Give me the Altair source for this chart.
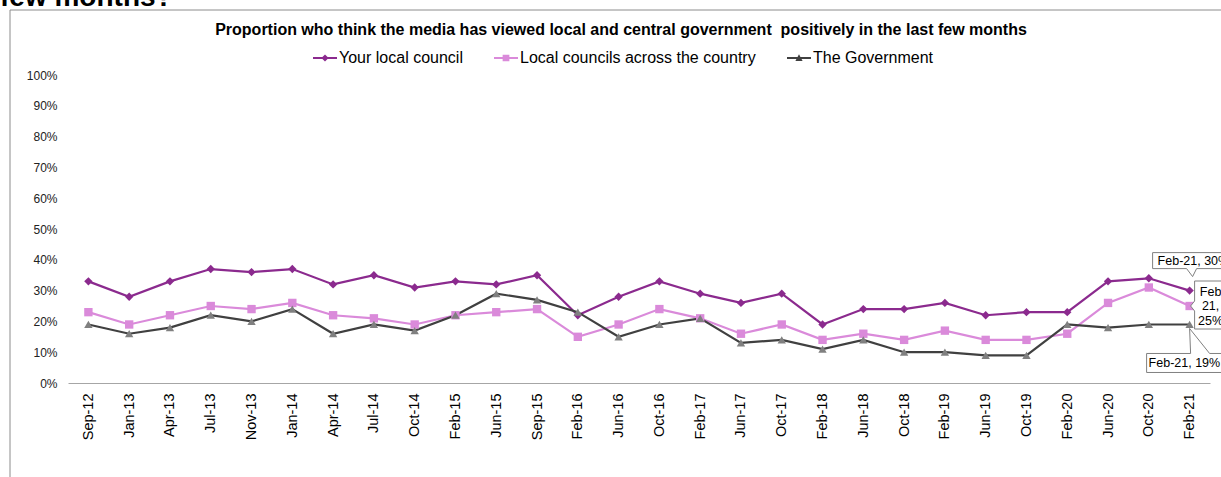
import altair as alt
import pandas as pd

categories = ["Sep-12", "Jan-13", "Apr-13", "Jul-13", "Nov-13", "Jan-14", "Apr-14", "Jul-14",
              "Oct-14", "Feb-15", "Jun-15", "Sep-15", "Feb-16", "Jun-16", "Oct-16", "Feb-17",
              "Jun-17", "Oct-17", "Feb-18", "Jun-18", "Oct-18", "Feb-19", "Jun-19", "Oct-19",
              "Feb-20", "Jun-20", "Oct-20", "Feb-21"]
local_council = [33, 28, 33, 37, 36, 37, 32, 35, 31, 33, 32, 35, 22, 28, 33, 29, 26, 29, 19, 24,
                 24, 26, 22, 23, 23, 33, 34, 30]
councils_country = [23, 19, 22, 25, 24, 26, 22, 21, 19, 22, 23, 24, 15, 19, 24, 21, 16, 19, 14, 16,
                    14, 17, 14, 14, 16, 26, 31, 25]
government = [19, 16, 18, 22, 20, 24, 16, 19, 17, 22, 29, 27, 23, 15, 19, 21, 13, 14, 11, 14,
              10, 10, 9, 9, 19, 18, 19, 19]
series_names = ["Your local council", "Local councils across the country", "The Government"]
y_ticks = [0, 0.1, 0.2, 0.3, 0.4, 0.5, 0.6, 0.7, 0.8, 0.9, 1.0]

chart_title = "Proportion who think the media has viewed local and central government \u00a0positively in the last few months"
heading_tail = "few months?"

FONT = "Liberation Sans"
line_colors = ["#8B2A8E", "#DA8ADA", "#404040"]
marker_colors = ["#8B2A8E", "#DA8ADA", "#808080"]
marker_shapes = ["diamond", "square", "triangle-up"]
legend_shapes = [
    "M-1,-0.085L1,-0.085L1,0.085L-1,0.085Z M0,-0.3L0.3,0L0,0.3L-0.3,0Z",
    "M-1,-0.085L1,-0.085L1,0.085L-1,0.085Z M-0.28,-0.28L0.28,-0.28L0.28,0.28L-0.28,0.28Z",
    "M-1,-0.085L1,-0.085L1,0.085L-1,0.085Z M0,-0.32L0.3,0.24L-0.3,0.24Z",
]

rows = []
for name, vals in zip(series_names, [local_council, councils_country, government]):
    for c, v in zip(categories, vals):
        rows.append({"period": c, "series": name, "value": v / 100})
df = pd.DataFrame(rows)

xenc = alt.X("period:O", sort=categories,
             scale=alt.Scale(type="point", padding=0.5, domain=categories),
             axis=alt.Axis(title=None, labelAngle=-90, labelFontSize=14.5, labelFont=FONT,
                           labelColor="#000000", ticks=False, domainColor="#a6a6a6",
                           labelPadding=10, grid=False))
yenc = alt.Y("value:Q", scale=alt.Scale(domain=[0, 1], nice=False),
             axis=alt.Axis(title=None, values=y_ticks, format=".0%", labelFontSize=12,
                           labelFont=FONT, labelColor="#222222", ticks=False, domain=False,
                           grid=False, labelPadding=11))

lines = alt.Chart(df).mark_line(strokeWidth=2.2).encode(
    x=xenc, y=yenc,
    color=alt.Color("series:N", scale=alt.Scale(domain=series_names, range=line_colors), legend=None),
    order=alt.value(0),
)

markers = alt.Chart(df).mark_point(filled=True, size=70, opacity=1).encode(
    x=xenc, y=yenc,
    color=alt.Color("series:N", scale=alt.Scale(domain=series_names, range=marker_colors), legend=None),
    shape=alt.Shape("series:N", scale=alt.Scale(domain=series_names, range=marker_shapes), legend=None),
)

legend_params = dict(title=None, orient="none", direction="horizontal",
                     legendX=245, legendY=-29, labelFont=FONT, labelFontSize=16,
                     labelColor="#000000", symbolSize=576, symbolStrokeWidth=0,
                     labelOffset=2, columnPadding=31, symbolOpacity=1, labelLimit=0)

legend_layer = alt.Chart(df).transform_filter("datum.value < 0").mark_point(filled=True, opacity=1).encode(
    x=xenc, y=yenc,
    color=alt.Color("series:N", scale=alt.Scale(domain=series_names, range=line_colors),
                    legend=alt.Legend(**legend_params)),
    shape=alt.Shape("series:N", scale=alt.Scale(domain=series_names, range=legend_shapes),
                    legend=alt.Legend(**legend_params)),
)

# callouts on the last period
last = categories[-1]
ann = df[df["period"] == last].copy()
ann["label"] = ann["period"] + ", " + (ann["value"] * 100).round().astype(int).astype(str) + "%"

callout_specs = {
    "Your local council": dict(path="M-37,-38L45,-38L45,-22L7,-22L3,-14L-3,-22L-37,-22Z",
                               dx=-32, dy=-30, align="left", wrap=False),
    "Local councils across the country": dict(path="M5,-25L45,-25L45,23L5,23L5,5L1,0L5,-5Z",
                                              dx=21, dy=-14.5, align="center", wrap=True),
    "The Government": dict(path="M-43,29L1,29L0,4L20,29L45,29L45,48L-43,48Z",
                           dx=-41, dy=39, align="left", wrap=False),
}

callout_layers = []
for name in series_names:
    spec = callout_specs[name]
    sub = ann[ann["series"] == name].copy()
    if spec["wrap"]:
        sub["label"] = sub["label"].str.replace("-", "\n", regex=False).str.replace(" ", "\n", regex=False)
    box = alt.Chart(sub).mark_point(filled=True, fill="#ffffff", stroke="#808080", strokeWidth=1,
                                     size=4, opacity=1, strokeOpacity=1, fillOpacity=1).encode(
        x=xenc, y=yenc, shape=alt.value(spec["path"]))
    txt = alt.Chart(sub).mark_text(font=FONT, fontSize=12.5, color="#000000", align=spec["align"],
                                   baseline="middle", dx=spec["dx"], dy=spec["dy"],
                                   lineBreak="\n", lineHeight=14.5).encode(
        x=xenc, y=yenc, text="label:N")
    callout_layers += [box, txt]

one = alt.Data(values=[{"a": 1}])
frame_left = alt.Chart(one).mark_rule(color="#8c8c8c", strokeWidth=1).encode(
    x=alt.value(-58), y=alt.value(-65), y2=alt.value(420))
frame_top = alt.Chart(one).mark_rule(color="#8c8c8c", strokeWidth=1).encode(
    x=alt.value(-58), x2=alt.value(1200), y=alt.value(-65))

title_text = alt.Chart(one).mark_text(font=FONT, fontSize=16, fontWeight="bold", color="#000000",
                                      align="center", baseline="middle").encode(
    x=alt.value(553), y=alt.value(-45), text=alt.value(chart_title))
heading = alt.Chart(one).mark_text(font=FONT, fontSize=28, fontWeight="bold", color="#000000",
                                   align="left", baseline="alphabetic").encode(
    x=alt.value(-68), y=alt.value(-69), text=alt.value(heading_tail))

chart = alt.layer(
    frame_left, frame_top, heading, title_text,
    lines, markers, legend_layer, *callout_layers
).resolve_scale(color="independent", shape="independent").properties(
    width=1142, height=308,
    autosize=alt.AutoSizeParams(type="none"),
    padding={"left": 68, "top": 75, "right": 11, "bottom": 94},
    background="#ffffff",
).configure_view(stroke=None)

chart.save("out.html", embed_options={"renderer": "svg", "actions": False})
